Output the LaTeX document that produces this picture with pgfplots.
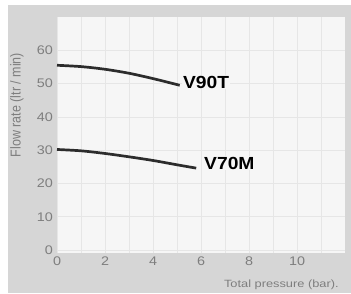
\documentclass[border=0pt]{standalone}
\usepackage{fontspec}
\setmainfont{Liberation Sans}
\usepackage{pgfplots}
\pgfplotsset{compat=1.18}
\definecolor{outerbg}{HTML}{D6D6D6}
\definecolor{plotbg}{HTML}{F6F6F6}
\definecolor{gridc}{HTML}{E6E6E6}
\definecolor{tickc}{HTML}{7E7E7E}
\definecolor{curvec}{HTML}{2C2C2C}
\begin{document}
\begin{tikzpicture}[x=1pt,y=1pt]
\useasboundingbox (0,0) rectangle (351,293);
\fill[white] (0,0) rectangle (351,293);
\fill[outerbg] (8,0) rectangle (351,288);
\begin{axis}[
  at={(57pt,40pt)}, anchor=south west,
  scale only axis, width=288pt, height=236pt,
  xmin=0, xmax=12, ymin=-0.9, ymax=70,
  xtick={0,2,...,10}, ytick={0,10,...,60},
  minor xtick={1,3,...,11},
  grid=both, grid style={color=gridc, line width=0.7pt},
  minor grid style={color=gridc, line width=0.5pt},
  axis line style={draw=none}, tick style={draw=none},
  axis background/.style={fill=plotbg},
  /pgf/number format/assume math mode=true,
  ticklabel style={font=\fontsize{12.5}{12.5}\selectfont, text=tickc, xscale=1.15},
  clip=false
]
\addplot[curvec, line width=2.7pt, smooth] coordinates {
  (0,55.5) (1,55.1) (2,54.3) (3,53.1) (4,51.5) (5,49.7) (5.1,49.5)
};
\addplot[curvec, line width=2.7pt, smooth] coordinates {
  (0,30.2) (1,29.8) (2,29.0) (3,28.0) (4,26.9) (5,25.6) (5.8,24.6)
};
\node[anchor=west, inner sep=1pt, fill=plotbg, font=\fontsize{17.5}{17.5}\selectfont\bfseries, xscale=1.1] at (axis cs:5.2,50.4) {V90T};
\node[anchor=west, inner sep=1pt, fill=plotbg, font=\fontsize{17.5}{17.5}\selectfont\bfseries, xscale=1.1] at (axis cs:6.08,26.1) {V70M};
\end{axis}
\node[rotate=90, text=tickc, font=\fontsize{12.5}{12.5}\selectfont, yscale=1.15] at (17,188) {Flow rate (ltr / min)};
\node[anchor=east, text=tickc, font=\fontsize{10.5}{10.5}\selectfont, xscale=1.22] at (343,8) {Total pressure (bar).};
\end{tikzpicture}
\end{document}
